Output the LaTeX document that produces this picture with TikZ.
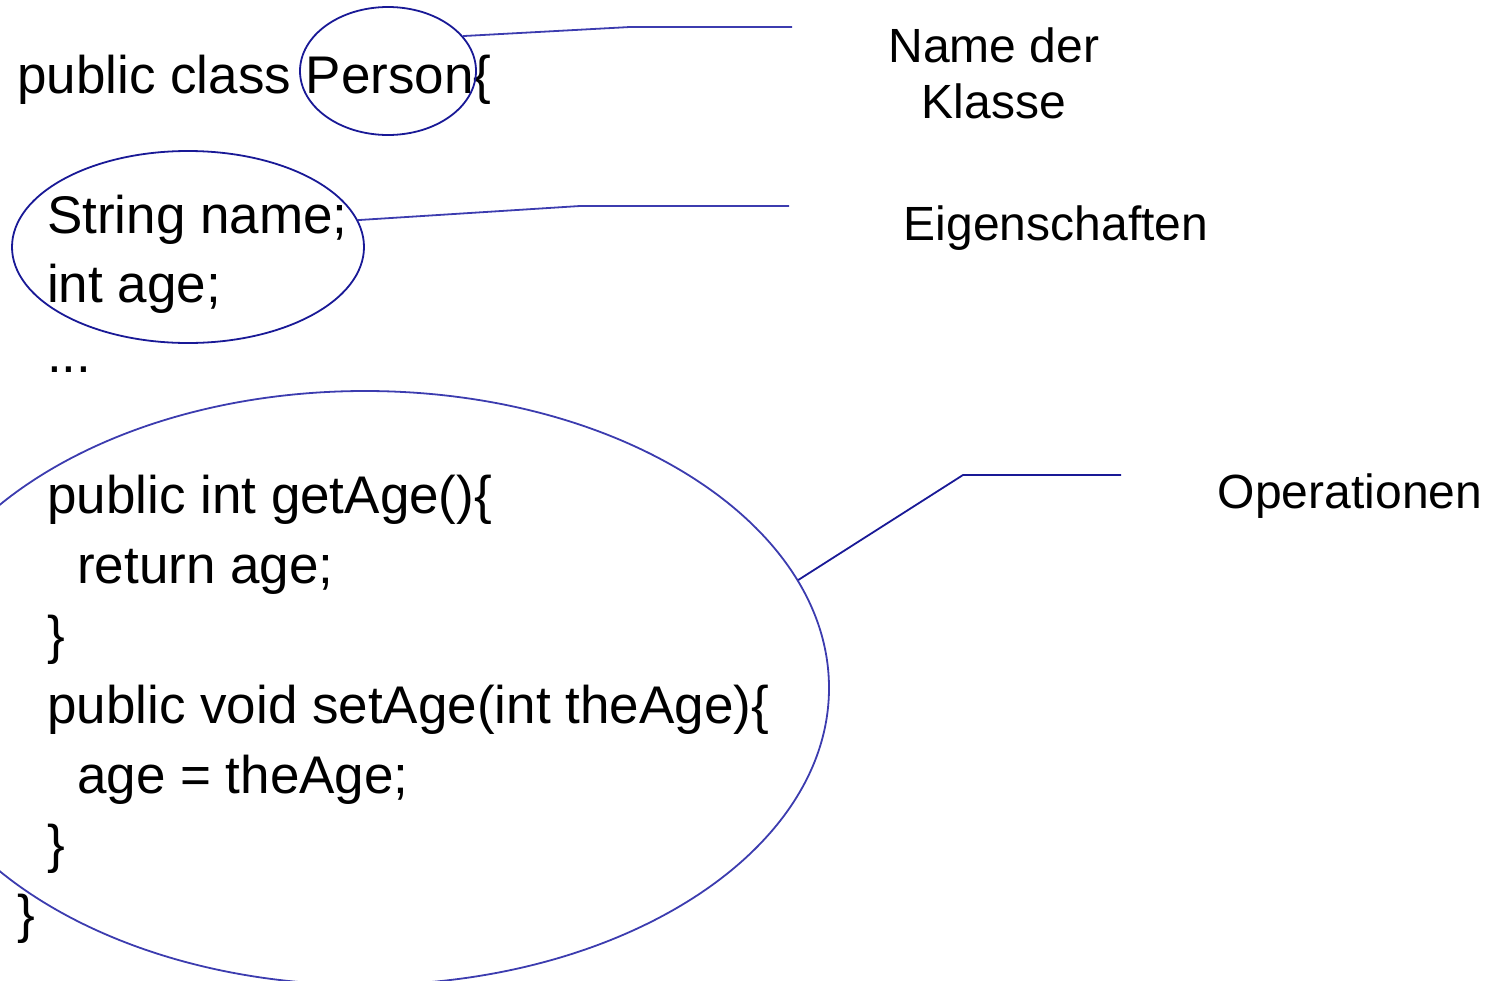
\documentclass[tikz,border=0pt]{standalone}
\usepackage{fontspec}
\setmainfont{Liberation Sans}
\usetikzlibrary{shapes.geometric}
\definecolor{navy}{RGB}{25,25,150}
\definecolor{lineblue}{RGB}{60,60,175}
\begin{document}
\begin{tikzpicture}[x=1pt,y=-1pt,
  codeline/.style={anchor=base west, inner sep=0pt, font=\fontsize{53}{60}\selectfont},
  note/.style={anchor=base, inner sep=0pt, align=center, font=\fontsize{48}{56}\selectfont},
  ring/.style={ellipse, draw=#1, line width=1.8pt, inner sep=0pt},
  leader/.style={draw=#1, line width=1.8pt}]
\useasboundingbox (0,0) rectangle (1485,980);
\clip (0,0) rectangle (1485,980);

% source code of the class
\node[codeline] (l1)  at (17,93)  {public class Person\{};
\node[codeline] (l2)  at (47,233) {String name;};
\node[codeline] (l3)  at (47,302) {int age;};
\node[codeline] (l4)  at (47,372) {...};
\node[codeline] (l5)  at (47,513) {public int getAge()\{};
\node[codeline] (l6)  at (77,583) {return age;};
\node[codeline] (l7)  at (47,653) {\}};
\node[codeline] (l8)  at (47,723) {public void setAge(int theAge)\{};
\node[codeline] (l9)  at (77,793) {age = theAge;};
\node[codeline] (l10) at (47,862) {\}};
\node[codeline] (l11) at (17,932) {\}};

% rings around the parts of the class
\node[ring=navy, minimum width=176pt, minimum height=128pt] (cls) at (388,71) {};
\node[ring=navy, minimum width=352pt, minimum height=192pt] (attr) at (188,247) {};
\node[ring=lineblue, minimum width=928pt, minimum height=594pt] (ops) at (365,688) {};

% explanations (base of a two-line note is its last line)
\node[note] (tcls) at (994,118) {Name der\\Klasse};
\node[note] (tattr) at (1056,240) {Eigenschaften};
\node[note] (tops) at (1350,508) {Operationen};

% leader lines
\coordinate (b1) at (630,27);  \coordinate (e1) at (792,27);
\coordinate (b2) at (580,206); \coordinate (e2) at (789,206);
\coordinate (b3) at (963,475); \coordinate (e3) at (1121,475);
\draw[leader=lineblue] (cls.25.6) -- (b1) -- (e1);
\draw[leader=lineblue] (attr.9.5) -- (b2) -- (e2);
\draw[leader=navy] (ops.14.6) -- (b3) -- (e3);
\end{tikzpicture}
\end{document}
